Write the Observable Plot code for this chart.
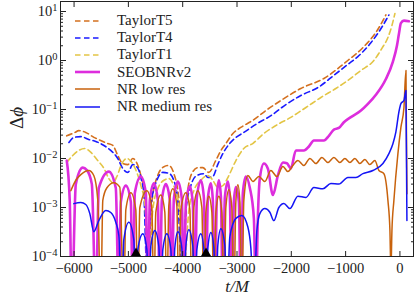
<!DOCTYPE html>
<html><head><meta charset="utf-8">
<script src="https://cdn.jsdelivr.net/npm/d3@7"></script>
<script src="https://cdn.jsdelivr.net/npm/@observablehq/plot@0.6"></script>
<style>
body{margin:0;background:#fff;}
#wrap{position:relative;width:415px;height:302px;font-family:"Liberation Serif",serif;}
#legend{position:absolute;left:75px;top:12px;font-size:15px;color:#222;font-family:"Liberation Serif",serif;}
.row{display:flex;align-items:center;height:17.2px;white-space:nowrap;}
.row svg{margin-right:17px;flex:none;}
</style></head><body><div id="wrap"></div>
<script>
// [t/M, Δφ]
const taylorT5 = [[-6135,0.029],[-5985,0.034],[-5915,0.037],[-5785,0.034],[-5635,0.027],[-5510,0.0233],[-5380,0.0202],[-5285,0.0184],[-5195,0.0115],[-5105,0.0079],[-5010,0.0075],[-4920,0.0100],[-4825,0.0072],[-4770,0.0045],[-4695,0.0015],[-4640,5e-5],[-4570,0.0012],[-4460,0.0045],[-4345,0.0068],[-4255,0.0072],[-4165,0.005],[-4070,0.0015],[-3995,5e-5],[-3925,0.0015],[-3830,0.005],[-3720,0.0065],[-3630,0.0065],[-3520,0.0052],[-3390,0.0091],[-3295,0.0146],[-3205,0.0202],[-3075,0.0324],[-2930,0.043],[-2710,0.06],[-2470,0.095],[-2190,0.153],[-1825,0.268],[-1400,0.43],[-960,1.0],[-680,1.84],[-425,4.0],[-258,8.5]];
const taylorT4 = [[-6095,0.0212],[-6005,0.0268],[-5875,0.028],[-5730,0.0244],[-5600,0.0223],[-5450,0.0184],[-5325,0.0146],[-5195,0.010],[-5105,0.0063],[-5010,0.0052],[-4920,0.0075],[-4825,0.0063],[-4770,0.0041],[-4715,0.0018],[-4660,5e-5],[-4585,0.0011],[-4475,0.0036],[-4365,0.0052],[-4255,0.005],[-4165,0.0036],[-4090,0.0014],[-4015,5e-5],[-3940,0.0009],[-3850,0.0028],[-3740,0.0045],[-3610,0.0049],[-3535,0.0041],[-3445,0.0043],[-3355,0.0075],[-3260,0.0126],[-3150,0.0193],[-3020,0.0268],[-2875,0.034],[-2650,0.05],[-2375,0.075],[-2100,0.126],[-1825,0.193],[-1490,0.29],[-1215,0.5],[-960,0.83],[-775,1.2],[-535,2.3],[-405,3.6],[-313,5.2],[-203,8.5]];
const taylorT1 = [[-6135,0.0083],[-6025,0.0115],[-5915,0.0146],[-5805,0.016],[-5690,0.0133],[-5565,0.0091],[-5450,0.0063],[-5360,0.0039],[-5285,0.0032],[-5215,0.0042],[-5120,0.0079],[-5030,0.010],[-4935,0.0083],[-4845,0.0052],[-4770,0.0028],[-4695,0.0011],[-4625,5e-5],[-4550,0.0009],[-4460,0.0024],[-4345,0.0036],[-4255,0.0039],[-4165,0.0028],[-4070,0.0011],[-3980,5e-5],[-3885,0.0009],[-3795,0.0022],[-3665,0.0036],[-3535,0.0045],[-3445,0.0036],[-3355,0.0026],[-3260,0.0028],[-3150,0.0045],[-3020,0.0091],[-2875,0.016],[-2710,0.0202],[-2505,0.0324],[-2285,0.047],[-2010,0.069],[-1730,0.11],[-1455,0.176],[-1180,0.268],[-960,0.39],[-720,0.625],[-480,1.0],[-332,1.77],[-221,2.94],[-147,5.2],[-92,9.1]];
const seobnr = [[-6135,0.0091],[-6080,0.0014],[-6042,1e-5],[-5968,0.003],[-5840,0.0065],[-5765,0.0058],[-5673,0.003],[-5600,1e-5],[-5545,0.0025],[-5360,0.0054],[-5232,0.0025],[-5176,1e-5],[-5139,0.0013],[-5047,0.0028],[-4955,0.0013],[-4918,1e-5],[-4881,0.002],[-4771,0.0043],[-4679,0.002],[-4642,1e-5],[-4605,0.0014],[-4531,0.0031],[-4458,0.0014],[-4421,1e-5],[-4384,0.0014],[-4310,0.003],[-4237,0.0014],[-4200,1e-5],[-4163,0.0015],[-4089,0.0034],[-4016,0.0015],[-3979,1e-5],[-3942,0.0012],[-3868,0.0027],[-3813,0.0012],[-3776,1e-5],[-3739,0.0016],[-3666,0.0036],[-3610,0.0016],[-3573,1e-5],[-3537,0.0015],[-3481,0.0031],[-3445,0.0014],[-3408,1e-5],[-3371,0.0017],[-3334,0.0036],[-3297,0.0017],[-3260,1e-5],[-3224,0.0016],[-3168,0.0034],[-3132,0.0016],[-3095,1e-5],[-3058,0.0013],[-3021,0.0026],[-2966,0.0013],[-2929,1e-5],[-2892,0.002],[-2837,0.0043],[-2763,0.0025],[-2689,0.0006],[-2652,1e-5],[-2616,0.0006],[-2579,0.004],[-2505,0.0079],[-2431,0.0062],[-2339,0.0018],[-2247,0.0045],[-2155,0.0083],[-2081,0.008],[-2008,0.0063],[-1916,0.0146],[-1768,0.0146],[-1676,0.0176],[-1584,0.0233],[-1492,0.0233],[-1400,0.0233],[-1308,0.029],[-1216,0.039],[-1124,0.042],[-1032,0.055],[-903,0.07],[-718,0.095],[-589,0.13],[-442,0.2],[-258,0.42],[-129,0.95],[-55,2.0],[-18,3.5],[18,5.8],[74,6.5],[166,6.3]];
const nrLowRes = [[-6060,0.0022],[-5968,0.0036],[-5876,0.0047],[-5729,0.0057],[-5637,0.0045],[-5563,0.0014],[-5508,1e-5],[-5471,0.0014],[-5398,0.0025],[-5269,0.0032],[-5158,0.0026],[-5084,1e-5],[-5047,0.0009],[-4955,0.002],[-4863,0.0009],[-4826,1e-5],[-4789,0.001],[-4660,0.0022],[-4568,0.001],[-4531,1e-5],[-4495,0.0008],[-4402,0.0018],[-4329,0.0008],[-4292,1e-5],[-4255,0.0011],[-4181,0.0024],[-4108,0.0011],[-4071,1e-5],[-4034,0.0009],[-3942,0.002],[-3868,0.0009],[-3831,1e-5],[-3795,0.001],[-3721,0.0022],[-3647,0.001],[-3610,1e-5],[-3573,0.0008],[-3518,0.0017],[-3463,0.0008],[-3426,1e-5],[-3389,0.0008],[-3334,0.0017],[-3279,0.0008],[-3242,1e-5],[-3205,0.001],[-3150,0.0023],[-3095,0.001],[-3058,1e-5],[-3021,0.0013],[-2984,0.0029],[-2947,0.0013],[-2910,1e-5],[-2874,0.0014],[-2800,0.0045],[-2708,0.0034],[-2597,0.0043],[-2487,0.0034],[-2376,0.0057],[-2266,0.0043],[-2155,0.0069],[-2063,0.0054],[-1971,0.0072],[-1879,0.0091],[-1768,0.0072],[-1658,0.010],[-1547,0.0079],[-1437,0.0105],[-1326,0.0083],[-1216,0.0105],[-1105,0.0083],[-1013,0.010],[-921,0.0083],[-829,0.010],[-737,0.0079],[-645,0.0095],[-553,0.0075],[-461,0.0091],[-387,0.0057],[-295,0.0049],[-221,0.0014],[-184,0.00034],[-166,5e-5],[-147,0.00034],[-111,0.0014],[-37,0.0126],[18,0.043],[74,0.11],[111,0.625],[129,0.0019]];
const nrMedRes = [[-6005,0.0012],[-5876,0.00126],[-5784,0.00115],[-5710,0.00075],[-5637,0.00032],[-5545,0.00054],[-5416,0.00087],[-5324,0.00079],[-5232,0.0005],[-5176,0.00027],[-5121,1e-5],[-5084,0.00022],[-4992,0.0005],[-4900,0.00022],[-4863,1e-5],[-4826,0.00014],[-4734,0.00029],[-4660,0.00014],[-4623,1e-5],[-4587,0.00016],[-4513,0.00034],[-4439,0.00016],[-4402,1e-5],[-4365,0.00014],[-4292,0.00029],[-4218,0.00014],[-4181,1e-5],[-4145,0.00015],[-4089,0.00032],[-4016,0.00015],[-3979,1e-5],[-3942,0.00016],[-3887,0.00035],[-3813,0.00016],[-3776,1e-5],[-3739,0.00014],[-3666,0.00029],[-3610,0.00014],[-3573,1e-5],[-3537,0.00015],[-3481,0.00031],[-3426,0.00015],[-3389,1e-5],[-3353,0.00017],[-3297,0.00037],[-3224,0.00017],[-3187,1e-5],[-3132,0.00025],[-3021,0.0006],[-2910,0.00069],[-2800,0.0004],[-2745,0.00015],[-2689,1e-5],[-2634,0.00034],[-2579,0.00075],[-2487,0.00095],[-2395,0.0008],[-2321,0.00054],[-2229,0.001],[-2137,0.00121],[-2026,0.00095],[-1879,0.0017],[-1731,0.0016],[-1584,0.00256],[-1418,0.0024],[-1271,0.0031],[-1124,0.003],[-958,0.0041],[-810,0.0041],[-682,0.0049],[-497,0.0057],[-313,0.0079],[-203,0.0126],[-129,0.02],[-74,0.035],[-18,0.09],[18,0.132],[74,0.153],[111,0.244],[129,0.00054]];
const markerTimes = [-4860, -3570];
const xTicks = [-6000, -5000, -4000, -3000, -2000, -1000, 0];
const yMajor = [1e-4, 1e-3, 1e-2, 1e-1, 1, 10];
const seriesNames = ["TaylorT5", "TaylorT4", "TaylorT1", "SEOBNRv2", "NR low res", "NR medium res"];

const yMinor = [];
for (const m of yMajor) for (let k = 2; k <= 9; k++) if (m * k < 16) yMinor.push(m * k);

const styles = [
  {data: taylorT5, stroke: "#d4701f", w: 1.6, dash: "5.5,3.5"},
  {data: taylorT4, stroke: "#1a1aff", w: 1.6, dash: "5.5,3.5"},
  {data: taylorT1, stroke: "#e3c545", w: 1.6, dash: "5.5,3.5"},
  {data: seobnr,   stroke: "#dd2ddd", w: 2.6, dash: null},
  {data: nrLowRes, stroke: "#c8620c", w: 1.5, dash: null},
  {data: nrMedRes, stroke: "#1414f5", w: 1.5, dash: null}
];

const fmtX = d => d < 0 ? "\u2212" + Math.abs(d) : String(d);

const chart = Plot.plot({
  width: 415, height: 302,
  marginLeft: 60, marginRight: 2, marginTop: 1, marginBottom: 46,
  style: {fontFamily: "'Liberation Serif', serif", fontSize: "14.5px", color: "#222", background: "white"},
  x: {domain: [-6250, 250]},
  y: {type: "log", domain: [1e-4, 16]},
  marks: [
    ...styles.map(s => Plot.line(s.data, {x: d => d[0], y: d => d[1], stroke: s.stroke, strokeWidth: s.w, strokeDasharray: s.dash, curve: "monotone-x", clip: true})),
    Plot.dot(markerTimes, {x: d => d, y: () => 1e-4, symbol: "triangle", r: 3.9, fill: "black", stroke: "none", dy: -3}),
    Plot.axisX({ticks: xTicks, tickSize: -5, tickPadding: 11, tickFormat: fmtX, label: null}),
    Plot.axisX({anchor: "top", ticks: xTicks, tickSize: -5, fill: "none", label: null}),
    Plot.axisY({ticks: yMajor, tickSize: -6, tickPadding: 9, tickFormat: d => "10^" + Math.round(Math.log10(d)), label: null}),
    Plot.axisY({ticks: yMinor, tickSize: -3, fill: "none", label: null}),
    Plot.axisY({anchor: "right", ticks: yMajor, tickSize: -6, fill: "none", label: null}),
    Plot.axisY({anchor: "right", ticks: yMinor, tickSize: -3, fill: "none", label: null}),
    Plot.frame({stroke: "#222"}),
    Plot.text(["t/M"], {frameAnchor: "bottom", dy: 35, fontStyle: "italic", fontSize: 17}),
    Plot.text(["Δϕ"], {frameAnchor: "left", dx: -44, rotate: -90, fontSize: 19})
  ]
});

const ns = "http://www.w3.org/2000/svg";
// superscript exponents on y tick labels
chart.querySelectorAll('g[aria-label="y-axis tick label"] text').forEach(t => {
  const s = t.textContent;
  if (!s.startsWith("10^")) return;
  const e = +s.slice(3);
  t.textContent = "";
  const a = document.createElementNS(ns, "tspan"); a.textContent = "10";
  const b = document.createElementNS(ns, "tspan");
  b.setAttribute("dy", "-0.5em"); b.setAttribute("font-size", "10.5px");
  b.textContent = e < 0 ? "\u2212" + (-e) : String(e);
  t.appendChild(a); t.appendChild(b);
});
// italic phi in the y label
chart.querySelectorAll('text').forEach(t => {
  if (t.textContent === "Δϕ") {
    t.textContent = "";
    const a = document.createElementNS(ns, "tspan"); a.textContent = "Δ";
    const b = document.createElementNS(ns, "tspan"); b.textContent = "ϕ";
    b.setAttribute("font-style", "italic");
    t.appendChild(a); t.appendChild(b);
  }
});

const wrap = document.getElementById("wrap");
wrap.appendChild(chart);

const legend = document.createElement("div");
legend.id = "legend";
seriesNames.forEach((name, i) => {
  const s = styles[i];
  const row = document.createElement("div");
  row.className = "row";
  row.innerHTML = `<svg width="25" height="6"><line x1="0" y1="3" x2="25" y2="3" stroke="${s.stroke}" stroke-width="${s.w}" ${s.dash ? `stroke-dasharray="${s.dash}"` : ""}/></svg><span>${name}</span>`;
  legend.appendChild(row);
});
wrap.appendChild(legend);
</script>
</body></html>
